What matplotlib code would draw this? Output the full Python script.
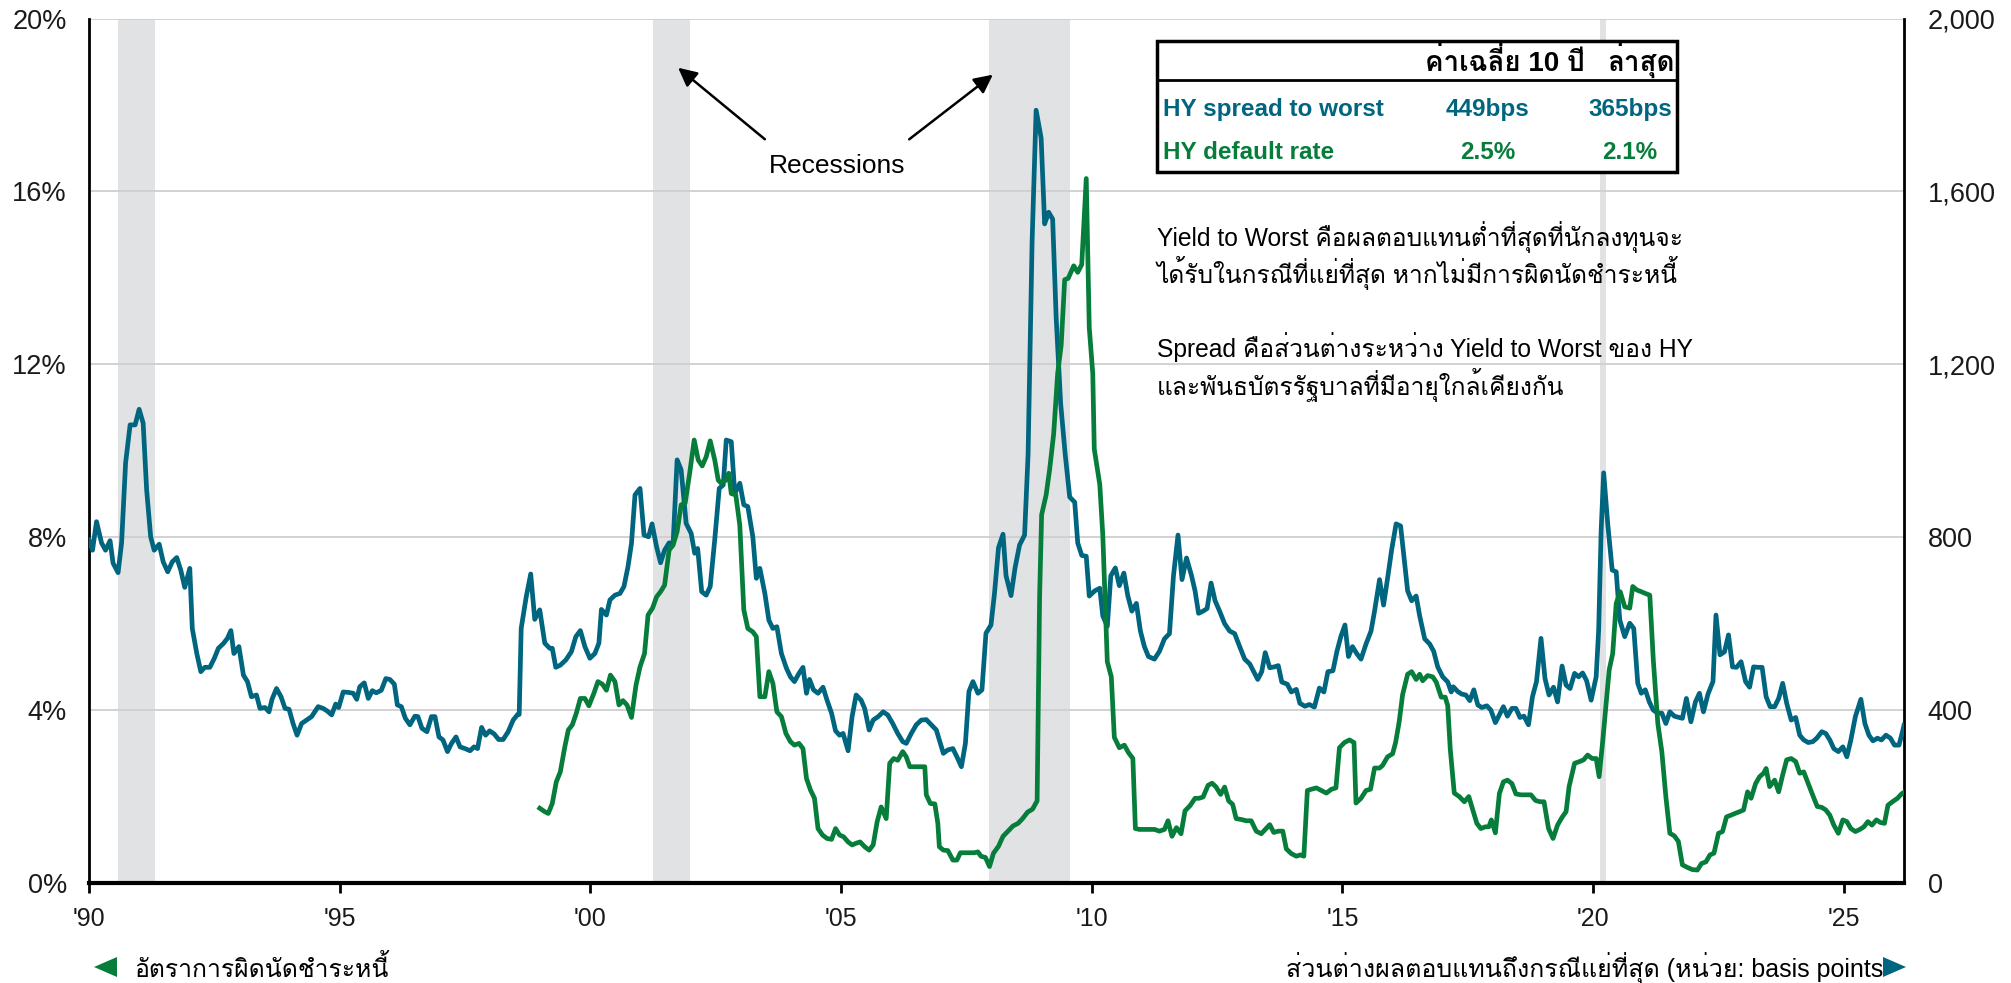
import matplotlib
matplotlib.use("Agg")
import matplotlib.pyplot as plt
from matplotlib import font_manager as fm
from matplotlib.patches import Rectangle, Polygon, FancyArrowPatch
from matplotlib.lines import Line2D
from matplotlib.ticker import FuncFormatter

# ---------------- data ----------------
spread_t = [1990.00, 1990.07, 1990.15, 1990.25, 1990.33, 1990.42, 1990.48, 1990.58, 1990.65, 1990.73,
            1990.82, 1990.92, 1991.00, 1991.08, 1991.15, 1991.23, 1991.30, 1991.40, 1991.48, 1991.57,
            1991.66, 1991.75, 1991.83, 1991.91, 1992.01, 1992.06, 1992.15, 1992.23, 1992.31, 1992.41,
            1992.50, 1992.58, 1992.68, 1992.76, 1992.83, 1992.89, 1992.99, 1993.08, 1993.16, 1993.24,
            1993.34, 1993.41, 1993.51, 1993.59, 1993.65, 1993.74, 1993.83, 1993.91, 1993.99, 1994.07,
            1994.15, 1994.24, 1994.34, 1994.44, 1994.57, 1994.67, 1994.75, 1994.84, 1994.92, 1994.98,
            1995.07, 1995.17, 1995.27, 1995.34, 1995.40, 1995.49, 1995.57, 1995.65, 1995.73, 1995.83,
            1995.92, 1996.00, 1996.09, 1996.15, 1996.23, 1996.31, 1996.40, 1996.50, 1996.56, 1996.64,
            1996.74, 1996.83, 1996.90, 1996.98, 1997.06, 1997.15, 1997.23, 1997.32, 1997.40, 1997.50,
            1997.60, 1997.68, 1997.75, 1997.83, 1997.91, 1997.99, 1998.08, 1998.17, 1998.26, 1998.36,
            1998.46, 1998.55, 1998.58, 1998.62, 1998.72, 1998.81, 1998.89, 1998.99, 1999.09, 1999.19,
            1999.24, 1999.31, 1999.40, 1999.51, 1999.62, 1999.71, 1999.80, 1999.89, 1999.99, 2000.09,
            2000.17, 2000.22, 2000.32, 2000.39, 2000.49, 2000.59, 2000.67, 2000.75, 2000.82, 2000.89,
            2000.99, 2001.07, 2001.16, 2001.23, 2001.32, 2001.40, 2001.48, 2001.57, 2001.65, 2001.73,
            2001.81, 2001.91, 2002.01, 2002.08, 2002.14, 2002.22, 2002.31, 2002.39, 2002.48, 2002.57,
            2002.65, 2002.71, 2002.81, 2002.88, 2002.98, 2003.06, 2003.14, 2003.24, 2003.31, 2003.38,
            2003.48, 2003.56, 2003.64, 2003.72, 2003.81, 2003.91, 2003.99, 2004.07, 2004.16, 2004.24,
            2004.31, 2004.37, 2004.45, 2004.54, 2004.64, 2004.72, 2004.81, 2004.89, 2004.97, 2005.04,
            2005.14, 2005.22, 2005.30, 2005.40, 2005.47, 2005.56, 2005.64, 2005.74, 2005.84, 2005.93,
            2006.03, 2006.13, 2006.23, 2006.30, 2006.40, 2006.50, 2006.60, 2006.70, 2006.80, 2006.90,
            2006.96, 2007.04, 2007.13, 2007.23, 2007.31, 2007.40, 2007.48, 2007.55, 2007.63, 2007.73,
            2007.81, 2007.89, 2007.99, 2008.06, 2008.14, 2008.23, 2008.29, 2008.39, 2008.47, 2008.56,
            2008.66, 2008.73, 2008.81, 2008.89, 2008.99, 2009.06, 2009.14, 2009.22, 2009.29, 2009.38,
            2009.47, 2009.56, 2009.66, 2009.72, 2009.80, 2009.89, 2009.95, 2010.06, 2010.16, 2010.22,
            2010.31, 2010.38, 2010.47, 2010.55, 2010.64, 2010.72, 2010.80, 2010.89, 2010.97, 2011.05,
            2011.13, 2011.25, 2011.35, 2011.45, 2011.55, 2011.63, 2011.72, 2011.80, 2011.89, 2011.99,
            2012.06, 2012.13, 2012.22, 2012.30, 2012.38, 2012.46, 2012.55, 2012.65, 2012.75, 2012.85,
            2012.95, 2013.05, 2013.15, 2013.23, 2013.31, 2013.39, 2013.46, 2013.55, 2013.64, 2013.72,
            2013.79, 2013.90, 2013.98, 2014.08, 2014.15, 2014.25, 2014.34, 2014.44, 2014.54, 2014.63,
            2014.71, 2014.81, 2014.89, 2014.97, 2015.05, 2015.12, 2015.20, 2015.29, 2015.37, 2015.47,
            2015.57, 2015.64, 2015.74, 2015.82, 2015.90, 2015.98, 2016.07, 2016.16, 2016.24, 2016.30,
            2016.38, 2016.47, 2016.54, 2016.64, 2016.74, 2016.82, 2016.90, 2017.00, 2017.10, 2017.17,
            2017.21, 2017.30, 2017.38, 2017.46, 2017.54, 2017.62, 2017.70, 2017.78, 2017.88, 2017.96,
            2018.05, 2018.13, 2018.21, 2018.29, 2018.38, 2018.46, 2018.54, 2018.62, 2018.71, 2018.79,
            2018.87, 2018.96, 2019.04, 2019.12, 2019.21, 2019.29, 2019.38, 2019.46, 2019.54, 2019.63,
            2019.71, 2019.79, 2019.87, 2019.96, 2020.06, 2020.11, 2020.16, 2020.21, 2020.29, 2020.38,
            2020.46, 2020.53, 2020.63, 2020.73, 2020.81, 2020.89, 2020.96, 2021.04, 2021.12, 2021.20,
            2021.29, 2021.37, 2021.45, 2021.53, 2021.62, 2021.72, 2021.78, 2021.86, 2021.95, 2022.04,
            2022.12, 2022.20, 2022.29, 2022.39, 2022.45, 2022.53, 2022.62, 2022.70, 2022.78, 2022.86,
            2022.95, 2023.04, 2023.12, 2023.20, 2023.29, 2023.37, 2023.45, 2023.53, 2023.62, 2023.70,
            2023.78, 2023.86, 2023.95, 2024.04, 2024.12, 2024.20, 2024.29, 2024.38, 2024.46, 2024.56,
            2024.64, 2024.72, 2024.80, 2024.89, 2024.98, 2025.06, 2025.14, 2025.23, 2025.34, 2025.42,
            2025.50, 2025.58, 2025.67, 2025.75, 2025.84, 2025.93, 2026.01, 2026.10, 2026.17, 2026.20]
spread_bps = [794, 770, 836, 787, 770, 792, 740, 718, 787, 972,
              1060, 1060, 1096, 1064, 909, 801, 770, 784, 743, 720,
              743, 753, 724, 684, 728, 589, 531, 489, 499, 499,
              520, 543, 554, 566, 584, 531, 547, 481, 466, 431,
              435, 404, 406, 396, 425, 450, 431, 404, 402, 369,
              342, 369, 377, 385, 408, 404, 398, 389, 414, 406,
              442, 441, 439, 425, 454, 463, 427, 445, 440, 446,
              473, 471, 460, 412, 408, 381, 366, 386, 385, 358,
              350, 385, 385, 338, 331, 304, 323, 338, 315, 311,
              306, 315, 311, 360, 342, 352, 345, 332, 332, 350,
              377, 390, 390, 589, 662, 715, 610, 632, 555, 543,
              543, 499, 504, 516, 535, 570, 584, 547, 520, 531,
              555, 633, 620, 655, 666, 670, 686, 732, 786, 898,
              913, 805, 801, 831, 778, 741, 770, 787, 786, 979,
              956, 832, 809, 763, 774, 674, 666, 686, 794, 913,
              921, 1025, 1021, 901, 925, 875, 871, 801, 705, 728,
              670, 608, 589, 593, 531, 497, 477, 466, 485, 499,
              439, 471, 447, 439, 453, 423, 393, 352, 342, 346,
              306, 385, 435, 423, 404, 354, 377, 385, 396, 389,
              369, 346, 327, 323, 346, 366, 377, 378, 366, 354,
              331, 300, 308, 311, 292, 269, 323, 443, 466, 439,
              447, 578, 597, 670, 776, 807, 711, 665, 729, 782,
              805, 992, 1484, 1788, 1724, 1525, 1552, 1536, 1308, 1109,
              992, 893, 881, 787, 758, 756, 664, 676, 682, 618,
              594, 711, 729, 688, 717, 664, 629, 647, 583, 547,
              524, 518, 536, 565, 577, 711, 805, 702, 752, 711,
              676, 624, 629, 635, 694, 653, 629, 600, 583, 577,
              547, 518, 507, 489, 471, 489, 533, 498, 500, 503,
              465, 460, 442, 448, 416, 409, 413, 407, 451, 442,
              489, 491, 536, 571, 597, 524, 547, 530, 518, 553,
              583, 629, 702, 643, 705, 770, 831, 826, 740, 676,
              653, 664, 618, 565, 553, 536, 500, 477, 465, 442,
              454, 443, 437, 435, 422, 447, 412, 406, 410, 400,
              371, 389, 408, 386, 404, 404, 383, 386, 366, 431,
              466, 566, 473, 435, 453, 419, 502, 458, 450, 485,
              477, 486, 468, 423, 477, 585, 817, 949, 832, 724,
              720, 609, 570, 601, 589, 462, 439, 447, 419, 400,
              393, 393, 369, 396, 386, 383, 381, 427, 373, 419,
              439, 396, 437, 466, 620, 528, 535, 574, 500, 499,
              512, 466, 453, 500, 499, 499, 431, 408, 408, 427,
              462, 416, 377, 383, 342, 331, 325, 327, 335, 350,
              346, 331, 311, 304, 315, 292, 331, 385, 425, 369,
              342, 329, 335, 331, 342, 335, 319, 319, 350, 365]

default_t = [1998.99, 1999.09, 1999.16, 1999.24, 1999.32, 1999.40, 1999.49, 1999.56, 1999.64, 1999.72,
             1999.80, 1999.89, 1999.97, 2000.07, 2000.15, 2000.24, 2000.32, 2000.40, 2000.49, 2000.57,
             2000.65, 2000.73, 2000.82, 2000.91, 2000.99, 2001.08, 2001.15, 2001.24, 2001.32, 2001.40,
             2001.48, 2001.57, 2001.65, 2001.73, 2001.81, 2001.89, 2001.98, 2002.07, 2002.15, 2002.23,
             2002.31, 2002.39, 2002.48, 2002.55, 2002.61, 2002.70, 2002.76, 2002.81, 2002.90, 2002.98,
             2003.06, 2003.14, 2003.24, 2003.31, 2003.38, 2003.48, 2003.56, 2003.64, 2003.72, 2003.81,
             2003.90, 2003.99, 2004.07, 2004.16, 2004.24, 2004.31, 2004.39, 2004.47, 2004.54, 2004.63,
             2004.72, 2004.81, 2004.89, 2004.97, 2005.05, 2005.14, 2005.22, 2005.30, 2005.38, 2005.47,
             2005.56, 2005.64, 2005.72, 2005.80, 2005.90, 2005.97, 2006.05, 2006.13, 2006.23, 2006.30,
             2006.37, 2006.47, 2006.57, 2006.67, 2006.70, 2006.78, 2006.87, 2006.93, 2006.96, 2007.04,
             2007.13, 2007.23, 2007.31, 2007.38, 2007.50, 2007.66, 2007.73, 2007.79, 2007.88, 2007.96,
             2008.04, 2008.14, 2008.23, 2008.33, 2008.43, 2008.53, 2008.62, 2008.72, 2008.82, 2008.91,
             2008.96, 2009.00, 2009.09, 2009.16, 2009.24, 2009.32, 2009.39, 2009.46, 2009.53, 2009.64,
             2009.72, 2009.80, 2009.89, 2009.95, 2010.02, 2010.05, 2010.16, 2010.22, 2010.31, 2010.39,
             2010.45, 2010.55, 2010.65, 2010.73, 2010.82, 2010.87, 2010.95, 2011.05, 2011.15, 2011.25,
             2011.35, 2011.45, 2011.52, 2011.60, 2011.69, 2011.78, 2011.86, 2011.96, 2012.06, 2012.14,
             2012.22, 2012.32, 2012.40, 2012.48, 2012.57, 2012.65, 2012.73, 2012.81, 2012.88, 2012.98,
             2013.08, 2013.18, 2013.28, 2013.38, 2013.46, 2013.55, 2013.63, 2013.72, 2013.81, 2013.88,
             2013.98, 2014.08, 2014.16, 2014.23, 2014.30, 2014.38, 2014.48, 2014.58, 2014.68, 2014.78,
             2014.87, 2014.94, 2015.04, 2015.14, 2015.23, 2015.27, 2015.37, 2015.47, 2015.56, 2015.64,
             2015.74, 2015.80, 2015.90, 2016.00, 2016.06, 2016.13, 2016.20, 2016.30, 2016.38, 2016.47,
             2016.54, 2016.60, 2016.70, 2016.80, 2016.87, 2016.97, 2017.05, 2017.10, 2017.15, 2017.23,
             2017.33, 2017.43, 2017.52, 2017.60, 2017.68, 2017.76, 2017.85, 2017.92, 2017.97, 2018.05,
             2018.13, 2018.21, 2018.29, 2018.38, 2018.46, 2018.56, 2018.66, 2018.76, 2018.85, 2018.94,
             2019.02, 2019.11, 2019.20, 2019.29, 2019.38, 2019.46, 2019.52, 2019.63, 2019.73, 2019.81,
             2019.89, 2019.98, 2020.06, 2020.12, 2020.19, 2020.26, 2020.32, 2020.39, 2020.46, 2020.54,
             2020.63, 2020.73, 2020.79, 2020.87, 2020.96, 2021.04, 2021.13, 2021.20, 2021.29, 2021.37,
             2021.45, 2021.53, 2021.62, 2021.70, 2021.78, 2021.88, 2021.98, 2022.08, 2022.16, 2022.25,
             2022.33, 2022.41, 2022.50, 2022.58, 2022.66, 2022.75, 2022.83, 2022.92, 2023.00, 2023.08,
             2023.15, 2023.24, 2023.32, 2023.40, 2023.45, 2023.52, 2023.62, 2023.70, 2023.78, 2023.86,
             2023.95, 2024.04, 2024.12, 2024.20, 2024.29, 2024.39, 2024.47, 2024.56, 2024.64, 2024.72,
             2024.80, 2024.89, 2024.98, 2025.06, 2025.14, 2025.23, 2025.32, 2025.40, 2025.48, 2025.56,
             2025.65, 2025.73, 2025.81, 2025.88, 2025.97, 2026.07, 2026.15, 2026.20]
default_pct = [1.73, 1.65, 1.61, 1.84, 2.34, 2.57, 3.15, 3.54, 3.66, 3.93,
               4.27, 4.27, 4.10, 4.39, 4.66, 4.60, 4.46, 4.81, 4.66, 4.12,
               4.22, 4.12, 3.83, 4.58, 5.00, 5.31, 6.20, 6.36, 6.62, 6.74,
               6.89, 7.70, 7.82, 8.13, 8.75, 8.79, 9.48, 10.25, 9.79, 9.65,
               9.86, 10.23, 9.79, 9.32, 9.25, 9.32, 9.48, 9.01, 8.98, 8.28,
               6.32, 5.89, 5.81, 5.70, 4.31, 4.31, 4.89, 4.62, 3.96, 3.85,
               3.46, 3.27, 3.19, 3.23, 3.11, 2.42, 2.15, 1.96, 1.26, 1.11,
               1.03, 1.01, 1.26, 1.11, 1.07, 0.95, 0.88, 0.92, 0.95, 0.84,
               0.76, 0.88, 1.42, 1.76, 1.49, 2.77, 2.88, 2.84, 3.04, 2.92,
               2.69, 2.69, 2.69, 2.69, 2.04, 1.84, 1.83, 1.38, 0.84, 0.76,
               0.75, 0.53, 0.53, 0.70, 0.70, 0.70, 0.72, 0.62, 0.59, 0.38,
               0.69, 0.85, 1.08, 1.20, 1.32, 1.38, 1.49, 1.64, 1.71, 1.90,
               6.64, 8.52, 8.98, 9.57, 10.39, 11.79, 12.44, 13.96, 13.99, 14.28,
               14.13, 14.31, 16.30, 12.85, 11.79, 10.04, 9.22, 8.05, 5.12, 4.77,
               3.37, 3.13, 3.19, 3.02, 2.88, 1.26, 1.24, 1.24, 1.24, 1.24,
               1.20, 1.24, 1.44, 1.08, 1.28, 1.14, 1.67, 1.79, 1.96, 1.96,
               1.99, 2.26, 2.31, 2.22, 2.05, 2.22, 1.90, 1.82, 1.49, 1.47,
               1.44, 1.44, 1.20, 1.14, 1.24, 1.35, 1.17, 1.20, 1.20, 0.79,
               0.68, 0.62, 0.65, 0.62, 2.14, 2.17, 2.20, 2.14, 2.08, 2.17,
               2.20, 3.13, 3.25, 3.31, 3.25, 1.85, 1.96, 2.14, 2.17, 2.66,
               2.66, 2.72, 2.92, 2.99, 3.25, 3.72, 4.36, 4.83, 4.89, 4.71,
               4.83, 4.68, 4.80, 4.77, 4.65, 4.30, 4.30, 4.10, 3.10, 2.08,
               2.00, 1.88, 2.00, 1.69, 1.38, 1.26, 1.30, 1.30, 1.46, 1.16,
               2.07, 2.34, 2.38, 2.30, 2.06, 2.04, 2.04, 2.04, 1.91, 1.88,
               1.88, 1.26, 1.03, 1.34, 1.52, 1.65, 2.23, 2.77, 2.81, 2.85,
               2.96, 2.88, 2.88, 2.46, 3.27, 4.16, 4.93, 5.31, 6.47, 6.74,
               6.39, 6.36, 6.86, 6.78, 6.74, 6.70, 6.66, 5.16, 3.69, 3.04,
               2.00, 1.15, 1.09, 0.96, 0.42, 0.36, 0.31, 0.30, 0.45, 0.49,
               0.65, 0.69, 1.15, 1.19, 1.53, 1.57, 1.61, 1.65, 1.69, 2.11,
               1.96, 2.30, 2.46, 2.54, 2.65, 2.23, 2.38, 2.11, 2.50, 2.85,
               2.88, 2.81, 2.54, 2.57, 2.30, 2.00, 1.77, 1.75, 1.69, 1.57,
               1.34, 1.15, 1.46, 1.42, 1.26, 1.19, 1.24, 1.30, 1.42, 1.34,
               1.46, 1.40, 1.38, 1.80, 1.88, 1.96, 2.06, 2.10]

recession_start = [1990.58, 2001.24, 2007.96, 2020.13]
recession_end = [1991.32, 2001.98, 2009.56, 2020.26]

year_ticks = [1990, 1995, 2000, 2005, 2010, 2015, 2020, 2025]
year_labels = ["'90", "'95", "'00", "'05", "'10", "'15", "'20", "'25"]
pct_ticks = [0, 4, 8, 12, 16, 20]
bps_ticks = [0, 400, 800, 1200, 1600, 2000]

table_header = ["ค่าเฉลี่ย 10 ปี", "ล่าสุด"]
table_rows = [("HY spread to worst", "449bps", "365bps"),
              ("HY default rate", "2.5%", "2.1%")]
note_lines = ["Yield to Worst คือผลตอบแทนต่ำที่สุดที่นักลงทุนจะ",
              "ได้รับในกรณีที่แย่ที่สุด หากไม่มีการผิดนัดชำระหนี้",
              "Spread คือส่วนต่างระหว่าง Yield to Worst ของ HY",
              "และพันธบัตรรัฐบาลที่มีอายุใกล้เคียงกัน"]
left_label = "อัตราการผิดนัดชำระหนี้"
right_label = "ส่วนต่างผลตอบแทนถึงกรณีแย่ที่สุด (หน่วย: basis points"

# ---------------- style ----------------
BLUE = "#00657F"
GREEN = "#067D3B"
BAND = "#E1E2E4"
GRID = "#CFCFCF"

avail = set(f.name for f in fm.fontManager.ttflist)
# Loma places tone marks above upper vowels by default (works without complex shaping)
thai_pref = ["Loma", "Noto Sans Thai Looped", "IBM Plex Sans Thai Looped", "Sarabun", "Noto Sans Thai"]
THAI = next((f for f in thai_pref if f in avail), "DejaVu Sans")
LATIN = "Liberation Sans" if "Liberation Sans" in avail else "DejaVu Sans"
FAM = [LATIN, THAI, "DejaVu Sans"]
plt.rcParams['font.family'] = FAM

W, H = 2011, 983
fig = plt.figure(figsize=(W / 100, H / 100), dpi=100)


def fx(px):
    return px / W


def fy(py):
    return 1 - py / H


# ---------------- axes ----------------
L, R, T, B = 89, 1904, 18.6, 883
ax2 = fig.add_axes([fx(L), fy(B), fx(R) - fx(L), fy(T) - fy(B)])   # spread (right axis)
ax = ax2.twinx()                                                  # default rate (left axis)
ax.set_zorder(ax2.get_zorder() + 1)
ax.patch.set_visible(False)
ax.yaxis.set_label_position("left")
ax.yaxis.tick_left()
ax2.yaxis.set_label_position("right")
ax2.yaxis.tick_right()

xmin, xmax = 1990, 2026.2
for s_, e_ in zip(recession_start, recession_end):
    ax2.axvspan(s_, e_, color=BAND, lw=0, zorder=0)
for v in bps_ticks[1:]:
    ax2.axhline(v, color=GRID, lw=1.3, zorder=1)

ax2.plot(spread_t, spread_bps, color=BLUE, lw=3.4, zorder=3, solid_joinstyle="round")
ax.plot(default_t, default_pct, color=GREEN, lw=3.4, zorder=3, solid_joinstyle="round")

ax2.set_xlim(xmin, xmax)
ax.set_ylim(0, 20)
ax2.set_ylim(0, 2000)

ax.set_yticks(pct_ticks)
ax.set_yticklabels([f"{v}%" for v in pct_ticks])
ax2.set_yticks(bps_ticks)
ax2.yaxis.set_major_formatter(FuncFormatter(lambda v, p: f"{int(v):,}"))
ax2.set_xticks(year_ticks)
ax2.set_xticklabels(year_labels, fontsize=18)
ax.tick_params(axis="x", which="both", bottom=False, top=False, labelbottom=False, labeltop=False)

ax.tick_params(axis="y", length=0, pad=16, labelsize=19.5, labelcolor="#1a1a1a")
ax2.tick_params(axis="y", length=0, pad=17, labelsize=19.5, labelcolor="#1a1a1a")
ax2.tick_params(axis="x", length=7, width=2, direction="out", pad=10, color="black",
                labelcolor="#1a1a1a")

for a in (ax, ax2):
    for sp in a.spines.values():
        sp.set_visible(False)
ax2.spines["left"].set_visible(True)
ax2.spines["left"].set_linewidth(2)
ax2.spines["right"].set_visible(True)
ax2.spines["right"].set_linewidth(2)
ax2.spines["bottom"].set_visible(True)
ax2.spines["bottom"].set_linewidth(3)
ax2.spines["bottom"].set_zorder(5)

# ---------------- recessions annotation ----------------
fig.text(fx(837), fy(166), "Recessions", ha="center", va="center", fontsize=19, color="black")
for tail, tip in [((767, 141), (676, 66)), ((907, 141), (995, 73))]:
    fig.add_artist(FancyArrowPatch((fx(tail[0]), fy(tail[1])), (fx(tip[0]), fy(tip[1])),
                                   transform=fig.transFigure, arrowstyle="-|>", mutation_scale=28,
                                   color="black", lw=1.8))

# ---------------- table ----------------
fig.add_artist(Rectangle((fx(1157), fy(172)), fx(1677) - fx(1157), fy(41) - fy(172),
                         transform=fig.transFigure, facecolor="white", edgecolor="black",
                         lw=2.5, zorder=5))
fig.add_artist(Line2D([fx(1157), fx(1677)], [fy(80), fy(80)], transform=fig.transFigure,
                      color="black", lw=2, zorder=6))
fig.text(fx(1505), fy(71), table_header[0], ha="center", va="baseline", fontsize=20,
         fontweight="bold", color="black", zorder=7)
fig.text(fx(1641), fy(71), table_header[1], ha="center", va="baseline", fontsize=20,
         fontweight="bold", color="black", zorder=7)
row_y = [116, 159]
row_col = [BLUE, GREEN]
for (name, avg, last), yy, c in zip(table_rows, row_y, row_col):
    fig.text(fx(1163), fy(yy), name, ha="left", va="baseline", fontsize=17.5, fontweight="bold", color=c, zorder=7)
    fig.text(fx(1488), fy(yy), avg, ha="center", va="baseline", fontsize=17.5, fontweight="bold", color=c, zorder=7)
    fig.text(fx(1630), fy(yy), last, ha="center", va="baseline", fontsize=17.5, fontweight="bold", color=c, zorder=7)

# ---------------- notes ----------------
for line, yy in zip(note_lines, [246, 283, 357, 395]):
    fig.text(fx(1157), fy(yy), line, ha="left", va="baseline", fontsize=17.7, color="black", zorder=7)

# ---------------- bottom labels ----------------
fig.add_artist(Polygon([(fx(94), fy(967)), (fx(117), fy(957)), (fx(117), fy(977))],
                       closed=True, transform=fig.transFigure, facecolor=GREEN, edgecolor="none"))
fig.text(fx(134), fy(977), left_label, ha="left", va="baseline", fontsize=17.8, color="black")
fig.text(fx(1883), fy(977), right_label, ha="right", va="baseline", fontsize=18, color="black")
fig.add_artist(Polygon([(fx(1883), fy(957)), (fx(1906), fy(967)), (fx(1883), fy(977))],
                       closed=True, transform=fig.transFigure, facecolor=BLUE, edgecolor="none"))

fig.savefig("out.png", dpi=100)
